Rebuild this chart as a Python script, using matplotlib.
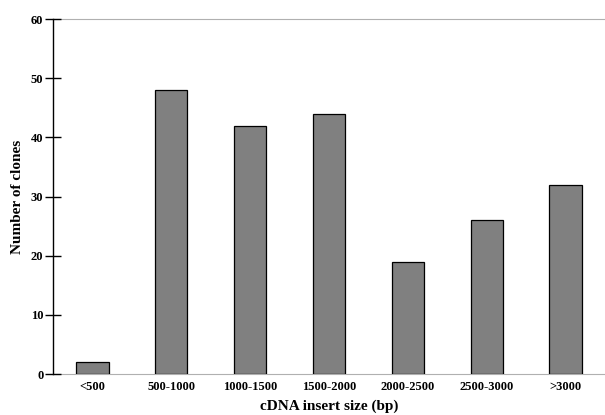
import matplotlib.pyplot as plt

categories = ['<500', '500-1000', '1000-1500', '1500-2000', '2000-2500', '2500-3000', '>3000']
clones = [2, 48, 42, 44, 19, 26, 32]
yticks = [0, 10, 20, 30, 40, 50, 60]

plt.rcParams['font.family'] = ['Liberation Serif', 'DejaVu Serif']
plt.rcParams['font.weight'] = 'bold'

fig = plt.figure(figsize=(6.05, 4.15), dpi=100)
ax = fig.add_axes([53 / 605, 41 / 415, 552 / 605, 355 / 415])

x = range(len(categories))
ax.bar(x, clones, width=0.41, color='#808080', edgecolor='black', linewidth=0.9, zorder=3)

ax.set_xlim(-0.5, len(categories) - 0.5)
ax.set_ylim(0, 60)
ax.set_yticks(yticks)
ax.set_xticks(list(x))
ax.set_xticklabels(categories, fontsize=9, fontweight='bold')
ax.set_yticklabels([str(v) for v in yticks], fontsize=9, fontweight='bold')
ax.tick_params(axis='y', direction='inout', length=12, width=1, pad=1)
ax.tick_params(axis='x', length=0, pad=5)

ax.spines['right'].set_visible(False)
ax.spines['top'].set_color('#b0b0b0')
ax.spines['bottom'].set_color('#b0b0b0')
ax.spines['top'].set_zorder(1)
ax.spines['bottom'].set_zorder(1)
ax.spines['left'].set_color('black')
ax.spines['left'].set_linewidth(1)
ax.yaxis.set_zorder(4)

ax.set_xlabel('cDNA insert size (bp)', fontsize=11, fontweight='bold', labelpad=5)
ax.set_ylabel('Number of clones', fontsize=11, fontweight='bold', labelpad=5)

fig.savefig('out.png', dpi=100)
